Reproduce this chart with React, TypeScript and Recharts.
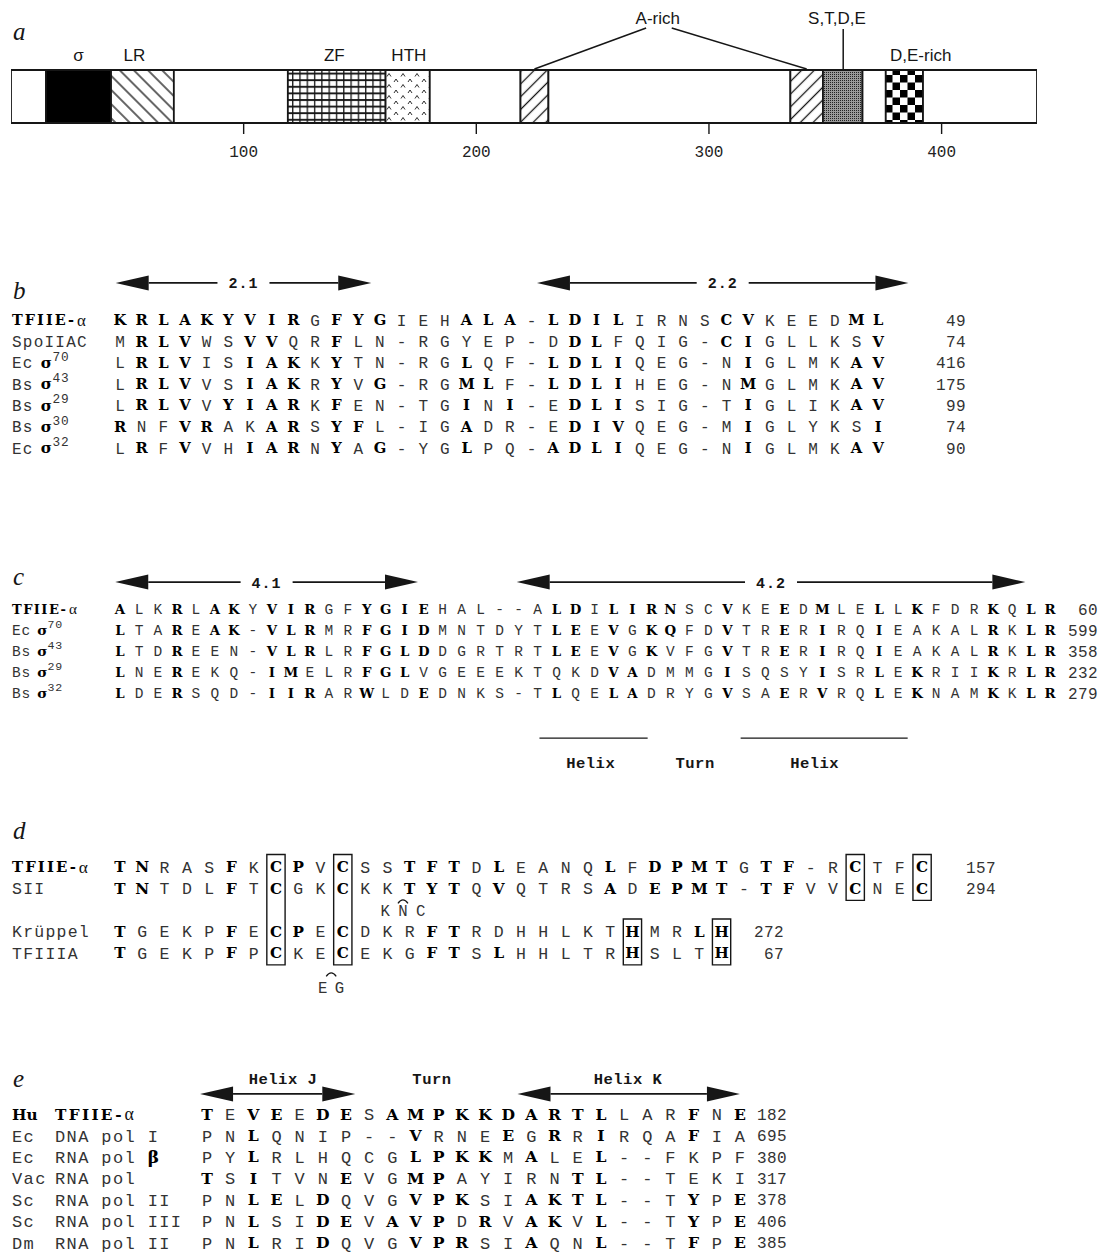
import React from 'react';
import {
  BarChart, Bar, XAxis, YAxis, ScatterChart, Scatter, ReferenceArea, ReferenceLine,
} from 'recharts';

const W = 1102;
const H = 1259;
const INK = '#161616';
const MONO = '"Liberation Mono", "DejaVu Sans Mono", monospace';
const SLAB = '"DejaVu Serif", serif';
const SANS = '"Liberation Sans", Arial, sans-serif';
const SERIF = '"Liberation Serif", "DejaVu Serif", serif';

// ---- a: domain map of TFIIE-alpha (residue numbers)
const MAP_MAX = 441;
const domainEdges = [0, 15, 43, 70, 119, 161, 180, 219, 231, 335, 349, 366, 376, 392, 441];
const domainKinds = ['plain', 'sigma', 'lr', 'plain', 'zf', 'hth', 'plain', 'arich', 'plain', 'arich', 'stde', 'plain', 'de', 'plain'];
const domainLabels = ['σ', 'LR', 'ZF', 'HTH', 'A-rich', 'S,T,D,E', 'D,E-rich'];
const domainLabelAt = [29, 53, 139, 171, 278, 355, 391];
const mapTicks = [100, 200, 300, 400];

// ---- b: region 2.1 / 2.2 (upper case = bold residue)
const bNames = ['TFIIE-α', 'SpoIIAC', 'Ecσ70', 'Bsσ43', 'Bsσ29', 'Bsσ30', 'Ecσ32'];
const bSeqs = [
  'KRLAKYVIRgFYGiehALA-LDILirnsCVkeedML',
  'mRLVwsVVqrFln-rgyep-dDLfqig-CIgllksV',
  'lRLVisIAKkYtn-rgLqf-LDLIqeg-nIglmkAV',
  'lRLVvsIAKrYvG-rgMLf-LDLIheg-nMglmkAV',
  'lRLVvYIARkFen-tgInI-eDLIsig-tIglikAV',
  'RnfVRakARsYFl-igAdr-eDIVqeg-mIglyksI',
  'lRfVvhIARnYaG-ygLpq-ADLIqeg-nIglmkAV',
];
const bEnds = [49, 74, 416, 175, 99, 74, 90];

// ---- c: region 4.1 / 4.2
const cNames = ['TFIIE-α', 'Ecσ70', 'Bsσ43', 'Bsσ29', 'Bsσ32'];
const cSeqs = [
  'AlkRlAKyVIRgfYGIEhal--aLDiLIRNscVkeEdMleLlKfdrKqLR',
  'LtaReAK-VLRmrFGIDmntdytLEeVgKQfdVtrErIrqIeakalRkLR',
  'LtdReen-VLRlrFGLDdgrtrtLEeVgKvfgVtrErIrqIeakalRkLR',
  'LneRekq-IMelrFGLvgeeektqkdVAdmmgIsqsyIsrLeKriiKrLR',
  'LdeRsqd-IIRarWldEdnks-tLqeLAdrygVsaErVrqLeKnamKkLR',
];
const cEnds = [60, 599, 358, 232, 279];
const cMotif = ['Helix', 'Turn', 'Helix'];

// ---- d: zinc finger
const dNames = ['TFIIE-α', 'SII', 'Krüppel', 'TFIIIA'];
const dSeqs = [
  'TNrasFkCPvCssTFTdLeanqLfDPMTgTF-rCtfC',
  'TNtdlFtCgkCkkTYTqVqtrsAdEPMT-TFvvCneC',
  'TgekpFeCPeCdkrFTrdhhlktHmrLH',
  'TgekpFpCkeCekgFTsLhhltrHsltH',
];
const dEnds = [157, 294, 272, 67];
const dSlots = [0, 1, 3, 4];
const dBoxCols = [8, 11, 34, 37, 24, 28];
const dBoxFrom = [0, 0, 0, 0, 3, 3];
const dBoxTo = [4, 4, 1, 1, 4, 4];

// ---- e: helix-turn-helix
const eOrgs = ['Hu', 'Ec', 'Ec', 'Vac', 'Sc', 'Sc', 'Dm'];
const eEnzymes = ['TFIIE-α', 'DNA pol I', 'RNA pol β', 'RNA pol', 'RNA pol II', 'RNA pol III', 'RNA pol II'];
const eSeqs = [
  'TeVEeDEsAMPKKDARTLlarFnE',
  'pnLqnip--VrneEgRrIrqaFia',
  'pyLrlhqcgLPKKmAleL--fkpf',
  'TsItvnEvgMPayirnTL--teki',
  'pnLElDqvgVPKsiAKTL--tYpE',
  'pnLsiDEvAVPdRvAKvL--tYpE',
  'pnLriDqvgVPRsiAqnL--tFpE',
];
const eEnds = [182, 695, 380, 317, 378, 406, 385];
const eMotif = ['Helix J', 'Turn', 'Helix K'];

// ---- layout
type Geo = { top: number; h: number; col1: number; sp: number; row0: number; rsp: number; fs: number };
const gB: Geo = { top: 262, h: 205, col1: 120, sp: 21.66, row0: 320, rsp: 21.3, fs: 16 };
const gC: Geo = { top: 560, h: 218, col1: 120, sp: 18.98, row0: 609, rsp: 21, fs: 14.5 };
const gD: Geo = { top: 840, h: 165, col1: 120, sp: 22.28, row0: 867, rsp: 21.5, fs: 16.5 };
const gE: Geo = { top: 1060, h: 199, col1: 207, sp: 23.17, row0: 1114, rsp: 21.4, fs: 17 };

const colX = (g: Geo, c: number) => g.col1 + (c - 1) * g.sp;
const rowY = (g: Geo, r: number) => g.row0 + r * g.rsp;

const MAP = { left: 11, right: 1037, top: 70, bottom: 123, h: 175 };
const mapX = (r: number) => MAP.left + (r / MAP_MAX) * (MAP.right - MAP.left);

const kindFill: Record<string, string> = {
  plain: '#fff', sigma: '#000', lr: 'url(#pLR)', zf: 'url(#pZF)', hth: 'url(#pHTH)',
  arich: 'url(#pAR)', stde: 'url(#pST)', de: 'url(#pDE)',
};

const segKeys = domainKinds.map((_, i) => `s${i}`);
const mapRow: Record<string, number | string> = { name: 'TFIIE-α' };
segKeys.forEach((k, i) => { mapRow[k] = domainEdges[i + 1] - domainEdges[i]; });

function residuePoints(seqs: string[], slots: number[]) {
  return seqs.flatMap((s, r) => s.split('').map((c, i) => ({
    x: i + 1, y: slots[r], ch: c.toUpperCase(), bold: c !== c.toLowerCase(),
  })));
}

const residueShape = (fs: number) => (p: any) => {
  const { cx, cy, payload } = p;
  const b = payload.bold;
  return (
    <text x={cx} y={cy} dy="0.36em" textAnchor="middle"
      fontFamily={b ? SLAB : MONO} fontWeight={b ? 700 : 400}
      fontSize={b ? fs * 0.92 : fs} fill={b ? '#000' : '#333'}>
      {payload.ch}
    </text>
  );
};

const arrowShape = (label?: string) => (p: any) => {
  const { x1, y1, x2 } = p;
  const xa = Math.min(x1, x2);
  const xb = Math.max(x1, x2);
  const y = y1;
  const L = 33;
  const hh = 7.5;
  const mid = (xa + xb) / 2;
  const gap = label ? 26 : 0;
  return (
    <g>
      <polygon points={`${xa},${y} ${xa + L},${y - hh} ${xa + L},${y + hh}`} fill={INK} />
      <polygon points={`${xb},${y} ${xb - L},${y - hh} ${xb - L},${y + hh}`} fill={INK} />
      {label ? (
        <>
          <line x1={xa + L} x2={mid - gap} y1={y} y2={y} stroke={INK} strokeWidth={1.8} />
          <line x1={mid + gap} x2={xb - L} y1={y} y2={y} stroke={INK} strokeWidth={1.8} />
          <text x={mid} y={y} dy="0.36em" textAnchor="middle" fontFamily={MONO}
            fontWeight={700} fontSize={15} fill={INK} letterSpacing={1}>{label}</text>
        </>
      ) : (
        <line x1={xa + L} x2={xb - L} y1={y} y2={y} stroke={INK} strokeWidth={1.8} />
      )}
    </g>
  );
};

function AlignChart({ g, points, children }: { g: Geo; points: any[]; children?: React.ReactNode }) {
  const xLo = 1 - g.col1 / g.sp;
  const yLo = (g.top - g.row0) / g.rsp;
  return (
    <div style={{ position: 'absolute', left: 0, top: g.top }}>
      <ScatterChart width={W} height={g.h} margin={{ top: 0, right: 0, bottom: 0, left: 0 }}>
        <XAxis type="number" dataKey="x" domain={[xLo, xLo + W / g.sp]} hide allowDataOverflow />
        <YAxis type="number" dataKey="y" domain={[yLo, yLo + g.h / g.rsp]} hide reversed allowDataOverflow />
        {children}
        <Scatter data={points} isAnimationActive={false} shape={residueShape(g.fs)} />
      </ScatterChart>
    </div>
  );
}

function SeqName({ x, y, name, g }: { x: number; y: number; name: string; g: Geo }) {
  const pitch = g.sp / 2;
  const ls = pitch - 0.6 * g.fs;
  if (name === 'TFIIE-α') {
    return (
      <g>
        <text x={x} y={y} dy="0.36em" fontFamily={SLAB} fontWeight={700} fontSize={g.fs * 0.9}
          fill="#000" textLength={pitch * 6 - 3} lengthAdjust="spacing">TFIIE-</text>
        <text x={x + pitch * 6} y={y} dy="0.36em" fontFamily={SERIF} fontSize={g.fs * 1.05} fill="#111">α</text>
      </g>
    );
  }
  const m = name.match(/^(\w+)σ(\d+)$/);
  if (m) {
    return (
      <g>
        <text x={x} y={y} dy="0.36em" fontFamily={MONO} fontSize={g.fs} fill="#333" letterSpacing={ls}>{m[1]}</text>
        <text x={x + pitch * 2.65} y={y} dy="0.36em" fontFamily={SLAB} fontWeight={700} fontSize={g.fs * 0.95}
          fill="#000">σ</text>
        <text x={x + pitch * 3.75} y={y - g.fs * 0.4} dy="0.36em" fontFamily={MONO} fontSize={g.fs * 0.8}
          fill="#333" letterSpacing={0.6}>{m[2]}</text>
      </g>
    );
  }
  const parts = name.split('β');
  return (
    <text x={x} y={y} dy="0.36em" fontFamily={MONO} fontSize={g.fs} fill="#333" letterSpacing={ls}
      style={{ whiteSpace: 'pre' }}>
      {parts[0]}
      {parts.length > 1 && <tspan fontFamily={SLAB} fontWeight={700} fill="#000">β</tspan>}
    </text>
  );
}

function Caret({ x, y }: { x: number; y: number }) {
  return <path d={`M${x - 5},${y + 3} Q${x},${y - 4} ${x + 5},${y + 3}`} fill="none" stroke={INK} strokeWidth={1.3} />;
}

function Num({ x, y, v }: { x: number; y: number; v: number }) {
  return (
    <text x={x} y={y} dy="0.36em" textAnchor="end" fontFamily={MONO} fontSize={16}
      fill="#333" letterSpacing={0.4}>{v}</text>
  );
}

function Overlay() {
  const letters: [string, number][] = [['a', 40], ['b', 299], ['c', 585], ['d', 839], ['e', 1087]];
  return (
    <svg width={W} height={H} style={{ position: 'absolute', left: 0, top: 0, pointerEvents: 'none' }}>
      <defs>
        <pattern id="pLR" patternUnits="userSpaceOnUse" width={10} height={10} patternTransform="rotate(-45)">
          <rect width={10} height={10} fill="#fff" />
          <line x1={5} y1={0} x2={5} y2={10} stroke={INK} strokeWidth={1.3} />
        </pattern>
        <pattern id="pAR" patternUnits="userSpaceOnUse" width={9} height={9} patternTransform="rotate(45)">
          <rect width={9} height={9} fill="#fff" />
          <line x1={4.5} y1={0} x2={4.5} y2={9} stroke={INK} strokeWidth={1.3} />
        </pattern>
        <pattern id="pZF" patternUnits="userSpaceOnUse" width={7.3} height={6.6}>
          <rect width={7.3} height={6.6} fill="#fff" />
          <line x1={0} y1={1} x2={7.3} y2={1} stroke={INK} strokeWidth={1.9} />
          <line x1={0.7} y1={0} x2={0.7} y2={6.6} stroke={INK} strokeWidth={1.3} />
        </pattern>
        <pattern id="pHTH" patternUnits="userSpaceOnUse" width={14} height={11}>
          <rect width={14} height={11} fill="#fff" />
          <path d="M2,5 L4,2 L6,5 M9,10.5 L11,7.5 L13,10.5" fill="none" stroke={INK} strokeWidth={0.9} />
        </pattern>
        <pattern id="pST" patternUnits="userSpaceOnUse" width={2} height={2}>
          <rect width={2} height={2} fill="#9a9a9a" />
          <rect width={1} height={1} fill="#222" />
        </pattern>
        <pattern id="pDE" patternUnits="userSpaceOnUse" width={15} height={15}>
          <rect width={15} height={15} fill="#fff" />
          <rect width={7.5} height={7.5} fill="#000" />
          <rect x={7.5} y={7.5} width={7.5} height={7.5} fill="#000" />
        </pattern>
      </defs>

      {letters.map(([t, y]) => (
        <text key={t} x={13} y={y} fontFamily={SERIF} fontStyle="italic" fontSize={25} fill={INK}>{t}</text>
      ))}

      {/* a: domain labels and leader lines */}
      {domainLabels.map((t, i) => {
        const high = t === 'A-rich' || t === 'S,T,D,E';
        return (
          <text key={t} x={mapX(domainLabelAt[i])} y={high ? 18 : 55} dy="0.36em" textAnchor="middle"
            fontFamily={SANS} fontSize={17} fill={INK}>{t}</text>
        );
      })}
      <line x1={mapX(273)} y1={28} x2={mapX(225)} y2={MAP.top - 1} stroke={INK} strokeWidth={1.5} />
      <line x1={mapX(284)} y1={28} x2={mapX(342)} y2={MAP.top - 1} stroke={INK} strokeWidth={1.5} />
      <line x1={mapX(357.7)} y1={29} x2={mapX(357.7)} y2={MAP.top - 1} stroke={INK} strokeWidth={1.5} />

      {/* b */}
      {bNames.map((n, r) => <SeqName key={n + r} x={12} y={rowY(gB, r)} name={n} g={gB} />)}
      {bEnds.map((v, r) => <Num key={r} x={966} y={rowY(gB, r)} v={v} />)}

      {/* c */}
      {cNames.map((n, r) => <SeqName key={n + r} x={12} y={rowY(gC, r)} name={n} g={gC} />)}
      {cEnds.map((v, r) => <Num key={r} x={1098} y={rowY(gC, r)} v={v} />)}
      {cMotif.map((t, i) => (
        <text key={i} x={colX(gC, [25.8, 31.3, 37.6][i])} y={762} dy="0.36em" textAnchor="middle"
          fontFamily={MONO} fontWeight={700} fontSize={15.5} fill={INK} letterSpacing={0.5}>{t}</text>
      ))}

      {/* d */}
      {dNames.map((n, r) => <SeqName key={n + r} x={12} y={rowY(gD, dSlots[r])} name={n} g={gD} />)}
      {dEnds.map((v, r) => (
        <Num key={r} x={r < 2 ? 996 : 784} y={rowY(gD, dSlots[r])} v={v} />
      ))}
      {['K', 'N', 'C'].map((t, i) => (
        <text key={t} x={colX(gD, 12.9 + i * 0.8)} y={rowY(gD, 2)} dy="0.36em" textAnchor="middle"
          fontFamily={MONO} fontSize={gD.fs * 0.95} fill="#333">{t}</text>
      ))}
      <Caret x={colX(gD, 13.7)} y={rowY(gD, 1.55)} />
      {['E', 'G'].map((t, i) => (
        <text key={t} x={colX(gD, 10.1 + i * 0.75)} y={rowY(gD, 5.6)} dy="0.36em" textAnchor="middle"
          fontFamily={MONO} fontSize={gD.fs * 0.95} fill="#333">{t}</text>
      ))}
      <Caret x={colX(gD, 10.48)} y={rowY(gD, 4.95)} />

      {/* e */}
      {eOrgs.map((n, r) => (
        r === 0
          ? <text key={r} x={12} y={rowY(gE, r)} dy="0.36em" fontFamily={SLAB} fontWeight={700}
              fontSize={gE.fs * 0.9} fill="#000">{n}</text>
          : <SeqName key={r} x={12} y={rowY(gE, r)} name={n} g={gE} />
      ))}
      {eEnzymes.map((n, r) => <SeqName key={r} x={55} y={rowY(gE, r)} name={n} g={gE} />)}
      {eEnds.map((v, r) => <Num key={r} x={787} y={rowY(gE, r)} v={v} />)}
      {eMotif.map((t, i) => (
        <text key={i} x={colX(gE, [4.28, 10.71, 19.17][i])} y={1078} dy="0.36em" textAnchor="middle"
          fontFamily={MONO} fontWeight={700} fontSize={15.5} fill={INK} letterSpacing={0.5}
          style={{ whiteSpace: 'pre' }}>{t}</text>
      ))}
    </svg>
  );
}

export default function App() {
  const bPts = residuePoints(bSeqs, bSeqs.map((_, i) => i));
  const cPts = residuePoints(cSeqs, cSeqs.map((_, i) => i));
  const dPts = residuePoints(dSeqs, dSlots);
  const ePts = residuePoints(eSeqs, eSeqs.map((_, i) => i));

  return (
    <div style={{ position: 'absolute', left: 0, top: 0, width: W, height: H, background: '#fff', overflow: 'hidden' }}>
      <div style={{ position: 'absolute', left: 0, top: 0 }}>
        <BarChart width={W} height={MAP.h} data={[mapRow]} layout="vertical" barCategoryGap={0}
          margin={{ top: MAP.top, right: W - MAP.right, bottom: 0, left: MAP.left }}>
          <XAxis type="number" domain={[0, MAP_MAX]} ticks={mapTicks} axisLine={false} allowDataOverflow
            height={MAP.h - MAP.bottom} tickSize={11} tickMargin={12}
            tick={{ fontFamily: MONO, fontSize: 16, fill: '#222' }}
            tickLine={{ stroke: INK, strokeWidth: 1.4 }} />
          <YAxis type="category" dataKey="name" hide />
          {segKeys.map((k, i) => (
            <Bar key={k} dataKey={k} stackId="map" fill={kindFill[domainKinds[i]]}
              stroke={INK} strokeWidth={1.8} isAnimationActive={false} />
          ))}
        </BarChart>
      </div>

      <AlignChart g={gB} points={bPts}>
        <ReferenceLine segment={[{ x: 0.8, y: -1.74 }, { x: 12.6, y: -1.74 }]} shape={arrowShape('2.1')} />
        <ReferenceLine segment={[{ x: 20.25, y: -1.74 }, { x: 37.4, y: -1.74 }]} shape={arrowShape('2.2')} />
      </AlignChart>

      <AlignChart g={gC} points={cPts}>
        <ReferenceLine segment={[{ x: 0.75, y: -1.28 }, { x: 16.7, y: -1.28 }]} shape={arrowShape('4.1')} />
        <ReferenceLine segment={[{ x: 21.9, y: -1.28 }, { x: 48.7, y: -1.28 }]} shape={arrowShape('4.2')} />
        <ReferenceLine segment={[{ x: 23.1, y: 6.15 }, { x: 28.8, y: 6.15 }]} stroke={INK} strokeWidth={1.2} />
        <ReferenceLine segment={[{ x: 33.7, y: 6.15 }, { x: 42.5, y: 6.15 }]} stroke={INK} strokeWidth={1.2} />
      </AlignChart>

      <AlignChart g={gD} points={dPts}>
        {dBoxCols.map((c, i) => (
          <ReferenceArea key={i} x1={c - 0.41} x2={c + 0.41} y1={dBoxFrom[i] - 0.58} y2={dBoxTo[i] + 0.55}
            fill="none" fillOpacity={0} stroke={INK} strokeWidth={1.4} />
        ))}
      </AlignChart>

      <AlignChart g={gE} points={ePts}>
        <ReferenceLine segment={[{ x: 0.7, y: -0.94 }, { x: 7.4, y: -0.94 }]} shape={arrowShape()} />
        <ReferenceLine segment={[{ x: 14.4, y: -0.94 }, { x: 24.0, y: -0.94 }]} shape={arrowShape()} />
      </AlignChart>

      <Overlay />
    </div>
  );
}
